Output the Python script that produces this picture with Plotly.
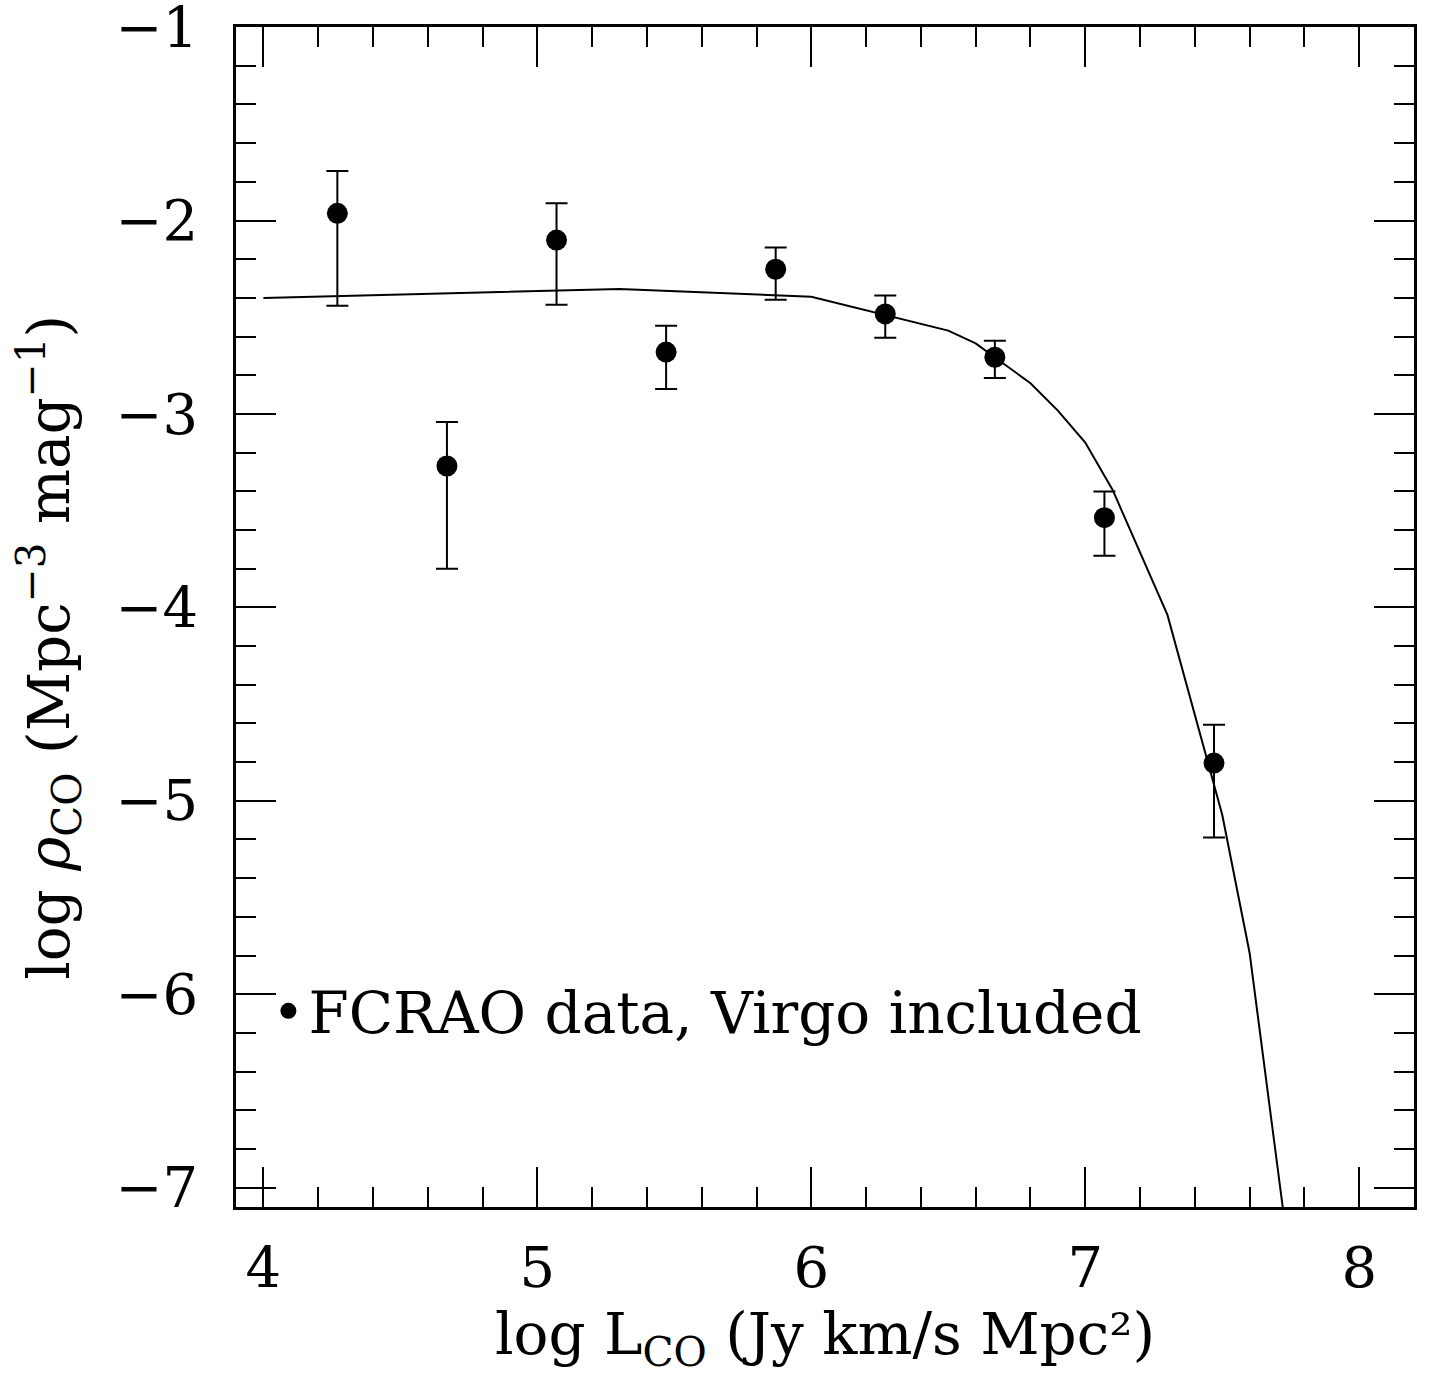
import plotly.graph_objects as go

# Data points (FCRAO, Virgo included)
x_data = [4.27, 4.67, 5.07, 5.47, 5.87, 6.27, 6.67, 7.07, 7.47]
y_data = [-1.963, -3.269, -2.101, -2.680, -2.252, -2.483, -2.707, -3.536, -4.805]
y_upper = [-1.744, -3.041, -1.911, -2.544, -2.140, -2.388, -2.621, -3.401, -4.607]
y_lower = [-2.440, -3.800, -2.435, -2.871, -2.409, -2.606, -2.814, -3.733, -5.190]

# Fitted curve
curve_x = [4.0, 5.3, 6.0, 6.5, 6.6, 6.8, 6.9, 7.0, 7.1, 7.3, 7.5, 7.6, 7.73]
curve_y = [-2.400, -2.354, -2.394, -2.569, -2.635, -2.841, -2.983, -3.148, -3.393,
           -4.039, -5.072, -5.787, -7.200]

x_ticks = [4, 5, 6, 7, 8]
y_ticks = [-1, -2, -3, -4, -5, -6, -7]

err_plus = [u - y for u, y in zip(y_upper, y_data)]
err_minus = [y - l for l, y in zip(y_lower, y_data)]

FONT = "DejaVu Serif"

fig = go.Figure()
fig.add_trace(go.Scatter(
    x=curve_x, y=curve_y, mode="lines",
    line=dict(color="black", width=2), showlegend=False, hoverinfo="skip",
))
fig.add_trace(go.Scatter(
    x=x_data, y=y_data, mode="markers",
    marker=dict(color="black", size=21),
    error_y=dict(type="data", symmetric=False, array=err_plus, arrayminus=err_minus,
                 color="black", thickness=2, width=11),
    name="FCRAO data, Virgo included", showlegend=True,
))

axis_common = dict(
    showgrid=False, zeroline=False, showline=True, linecolor="black", linewidth=2.5,
    mirror="allticks", ticks="inside", ticklen=40, tickwidth=2, tickcolor="black",
    tickfont=dict(family=FONT, size=56, color="black"),
    minor=dict(ticks="inside", ticklen=20, tickwidth=2, tickcolor="black", dtick=0.2),
    ticklabeloverflow="allow", automargin=False,
)

fig.update_xaxes(
    range=[3.9, 8.2], tickvals=x_ticks, ticktext=[str(v) for v in x_ticks],
    ticklabelstandoff=10,
    title=dict(text="log L<sub>CO</sub> (Jy km/s Mpc²)",
               font=dict(family=FONT, size=58, color="black"), standoff=12),
    **axis_common,
)
fig.update_yaxes(
    range=[-7.1, -0.9995], tickvals=y_ticks, ticktext=["−" + str(-v) for v in y_ticks],
    ticklabelstandoff=24,
    **axis_common,
)

fig.add_annotation(
    text="log <i>ρ</i><sub>CO</sub> (Mpc<sup>−3</sup> mag<sup>−1</sup>)",
    xref="paper", yref="paper", x=-0.158, y=0.4746, xanchor="center", yanchor="middle",
    textangle=-90, showarrow=False,
    font=dict(family=FONT, size=58, color="black"),
)

fig.update_layout(
    width=1439, height=1383,
    margin=dict(l=236, r=25, t=27, b=176, autoexpand=False),
    paper_bgcolor="white", plot_bgcolor="white",
    font=dict(family=FONT, color="black"),
    legend=dict(x=0.0275, y=0.166, xanchor="left", yanchor="middle",
                bgcolor="rgba(0,0,0,0)", font=dict(family=FONT, size=58, color="black"),
                itemsizing="trace"),
)

fig.write_html("out.html", config={"displayModeBar": False},
               post_script="document.body.style.margin='0';")
